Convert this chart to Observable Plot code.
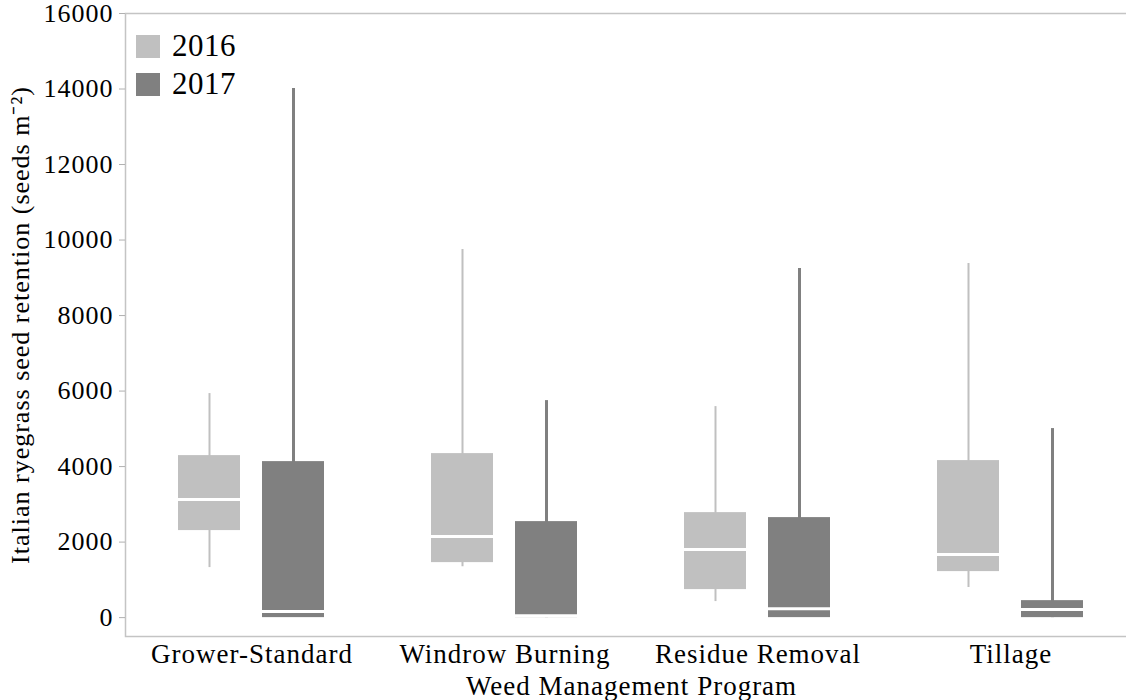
<!DOCTYPE html>
<html><head><meta charset="utf-8">
<script src="https://cdn.jsdelivr.net/npm/d3@7"></script>
<script src="https://cdn.jsdelivr.net/npm/@observablehq/plot@0.6"></script>
<style>
body{margin:0;background:#fff;}
#wrap{position:relative;width:1126px;height:700px;}
.leg{position:absolute;left:136px;height:24px;display:flex;align-items:center;font-family:"Liberation Serif",serif;font-size:31px;letter-spacing:0.5px;color:#000;}
.leg span.sw{display:inline-block;width:24px;height:23px;margin-right:12px;}
</style></head>
<body><div id="wrap"></div>
<script>
const categories = ["Grower-Standard", "Windrow Burning", "Residue Removal", "Tillage"];
const years = ["2016", "2017"];
const colors = ["#c0c0c0", "#808080"];
const yTicks = [0, 2000, 4000, 6000, 8000, 10000, 12000, 14000, 16000];
const yLabel = "Italian ryegrass seed retention (seeds m\u207B\u00B2)";
const xLabel = "Weed Management Program";

const min2016 = [1325, 1350, 425, 795];
const q1_2016 = [2305, 1457, 742, 1219];
const med2016 = [3126, 2146, 1801, 1669];
const q3_2016 = [4291, 4344, 2781, 4159];
const max2016 = [5934, 9748, 5589, 9377];

const min2017 = [0, 0, 0, 0];
const q1_2017 = [0, 0, 0, 0];
const med2017 = [159, 50, 238, 212];
const q3_2017 = [4132, 2543, 2649, 450];
const max2017 = [14013, 5748, 9245, 5007];

const rows = categories.flatMap((c, i) => [
  {cat: c, year: "2016", min: min2016[i], q1: q1_2016[i], med: med2016[i], q3: q3_2016[i], max: max2016[i]},
  {cat: c, year: "2017", min: min2017[i], q1: q1_2017[i], med: med2017[i], q3: q3_2017[i], max: max2017[i]}
]);

const chart = Plot.plot({
  width: 1126, height: 700,
  marginLeft: 124, marginRight: -11, marginTop: 13, marginBottom: 64,
  style: {fontFamily: '"Liberation Serif", serif', fontSize: "26px", letterSpacing: "1px", background: "#fff", color: "#000"},
  fx: {domain: categories, padding: 0, axis: null, label: null},
  x: {domain: years, paddingInner: 0.2588, paddingOuter: 0.62, axis: null},
  y: {domain: [-500, 16000], axis: null},
  color: {domain: years, range: colors},
  marks: [
    Plot.frame({stroke: "#c4c4c4", strokeWidth: 1.5, facet: "super"}),
    Plot.axisY({ticks: yTicks, tickFormat: d => String(d), tickSize: 6, tickPadding: 6, stroke: "#b0b0b0", fill: "#000", fontSize: 26,
      label: yLabel, labelAnchor: "center", labelOffset: 115, labelArrow: "none"}),
    Plot.axisFx({anchor: "bottom", tickSize: 0, tickPadding: 7, fontSize: 27, fill: "#000",
      label: xLabel, labelAnchor: "center", labelOffset: 58, labelArrow: "none"}),
    Plot.ruleX(rows.filter(d => d.year === "2016"), {fx: "cat", x: "year", y1: "min", y2: "max", stroke: colors[0], strokeWidth: 2}),
    Plot.ruleX(rows.filter(d => d.year === "2017"), {fx: "cat", x: "year", y1: "min", y2: "max", stroke: colors[1], strokeWidth: 3}),
    Plot.barY(rows, {fx: "cat", x: "year", y1: "q1", y2: "q3", fill: "year"}),
    Plot.tickY(rows, {fx: "cat", x: "year", y: "med", stroke: "#fff", strokeWidth: 3})
  ]
});
const wrap = document.getElementById("wrap");
wrap.appendChild(chart);
years.forEach((y, i) => {
  const d = document.createElement("div");
  d.className = "leg";
  d.style.top = (34 + i * 38) + "px";
  d.innerHTML = `<span class="sw" style="background:${colors[i]}"></span>${y}`;
  wrap.appendChild(d);
});
</script>
</body></html>
